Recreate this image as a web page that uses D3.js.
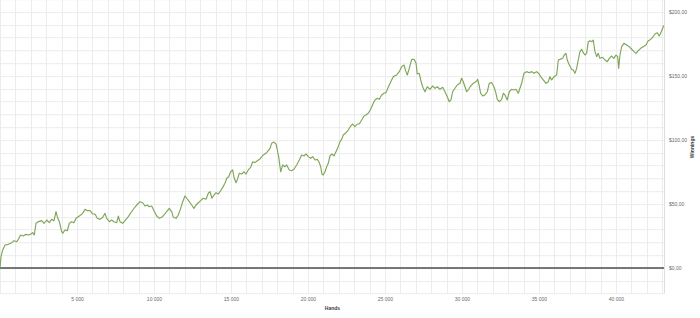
<!DOCTYPE html>
<html>
<head>
<meta charset="utf-8">
<script src="https://cdn.jsdelivr.net/npm/d3@7"></script>
<style>
  body { margin: 0; background: #fff; }
  svg { display: block; font-family: "Liberation Sans", Arial, sans-serif; }
</style>
</head>
<body>
<div id="chart"></div>
<script>
// Hands played (x) and cumulative winnings in $ (y)
var hands = [
  0, 65, 175, 325, 539, 760, 909, 1084, 1188, 1344, 1513, 1688, 1903, 2123, 2227, 2338,
  2487, 2708, 2857, 3033, 3202, 3357, 3507, 3636, 3721, 3851, 4007, 4072, 4221, 4370, 4500,
  4656, 4805, 4935, 5085, 5241, 5370, 5520, 5669, 5844, 6020, 6169, 6319, 6494, 6669, 6818,
  6929, 7098, 7253, 7403, 7578, 7682, 7792, 7968, 8117, 8332, 8656, 8877, 9091, 9267, 9416,
  9565, 9695, 9851, 10000, 10175, 10344, 10500, 10649, 10825, 10994, 11150, 11253, 11429,
  11578, 11734, 11864, 12013, 12123, 12292, 12448, 12597, 12727, 12877, 13032, 13201, 13377,
  13526, 13636, 13766, 13896, 14026, 14175, 14286, 14461, 14610, 14721, 14851, 14981, 15110,
  15195, 15325, 15409, 15539, 15695, 15844, 15974, 16123, 16279, 16409, 16558, 16708, 16883,
  17097, 17319, 17533, 17643, 17792, 17922, 18006, 18097, 18227, 18357, 18506, 18617, 18786,
  18942, 19091, 19266, 19435, 19591, 19740, 19870, 20019, 20175, 20305, 20455, 20604, 20734,
  20825, 20909, 20994, 21104, 21214, 21318, 21429, 21558, 21688, 21818, 21968, 22078, 22188,
  22292, 22468, 22617, 22773, 22903, 23052, 23201, 23331, 23487, 23636, 23766, 23916, 24072,
  24240, 24351, 24500, 24630, 24786, 24935, 25065, 25214, 25370, 25539, 25760, 25929, 26084,
  26234, 26364, 26448, 26578, 26734, 26883, 27013, 27097, 27227, 27318, 27448, 27597, 27747,
  27922, 28097, 28247, 28396, 28571, 28747, 28896, 29045, 29175, 29286, 29396, 29545, 29695,
  29870, 29981, 30084, 30195, 30305, 30435, 30565, 30734, 30909, 31019, 31123, 31214, 31344,
  31494, 31643, 31773, 31929, 32078, 32208, 32292, 32422, 32578, 32682, 32792, 32942, 33071,
  33227, 33377, 33506, 33656, 33766, 33877, 34026, 34201, 34370, 34526, 34675, 34851, 35020,
  35110, 35279, 35455, 35604, 35714, 35825, 35974, 36149, 36256, 36364, 36539, 36643, 36753,
  36838, 36968, 37123, 37230, 37338, 37448, 37552, 37662, 37773, 37877, 37987, 38097, 38201,
  38312, 38442, 38526, 38636, 38747, 38851, 38961, 39136, 39286, 39435, 39565, 39721, 39870,
  40000, 40110, 40175, 40260, 40370, 40520, 40695, 40864, 41019, 41169, 41299, 41448, 41604,
  41773, 41948, 42097, 42253, 42383, 42532, 42682, 42812, 42942, 43071, 43110
];
var winnings = [
  0, 8.8, 14.1, 18.0, 18.5, 19.8, 21.3, 20.5, 22.4, 25.8, 25.0, 26.3, 25.8, 27.6, 25.8, 34.9,
  36.2, 37.0, 34.9, 37.5, 35.4, 38.0, 37.0, 44.0, 40.1, 36.2, 28.4, 27.1, 29.7, 29.1, 34.9,
  36.2, 35.4, 38.8, 40.1, 41.4, 42.7, 45.9, 44.8, 44.8, 42.2, 42.2, 38.8, 38.0, 39.6, 42.7,
  38.8, 36.2, 37.5, 36.2, 35.4, 40.6, 36.2, 34.9, 37.0, 40.1, 45.9, 49.2, 51.8, 51.0, 48.4,
  49.2, 47.9, 48.4, 44.8, 40.6, 38.8, 39.6, 41.4, 44.0, 46.6, 44.0, 39.6, 38.8,
  41.4, 46.6, 51.8, 56.3, 54.5, 51.8, 49.2, 46.6, 49.2, 51.0, 52.6, 54.5, 53.7,
  58.4, 59.6, 54.5, 57.0, 58.8, 57.8, 59.6, 63.0, 66.2, 70.1, 71.3, 75.2, 76.6,
  70.9, 66.6, 68.8, 74.0, 73.4, 75.2, 73.4, 76.6, 78.7, 83.0, 82.3, 83.8, 85.2,
  88.3, 90.1, 93.5, 97.4, 98.4, 96.9, 92.2, 87.0, 75.2, 80.5, 79.1, 80.5, 76.6,
  76.0, 77.1, 80.5, 84.4, 88.3, 87.5, 89.1, 87.0, 85.7, 87.0, 84.4, 84.9, 82.3,
  79.1, 73.4, 72.7, 75.2, 79.1, 81.8, 87.5, 89.1, 87.5, 90.9, 94.8, 98.7, 100.5,
  103.9, 105.7, 107.8, 110.9, 112.5, 110.4, 112.5, 112.5, 115.6, 118.8, 119.5, 120.9, 124.0,
  128.7, 131.3, 132.6, 131.8, 135.2, 136.5, 137.0, 141.2, 145.3, 149.5, 150.8, 153.4, 157.3,
  158.6, 153.4, 150.8, 156.0, 163.0, 163.0, 160.4, 151.6, 152.1, 146.9, 141.6, 137.7, 141.6,
  139.6, 142.2, 140.4, 141.6, 139.6, 141.2, 137.7, 133.8, 129.9, 131.3, 137.7, 140.4, 143.0,
  144.3, 148.2, 145.5, 141.6, 137.7, 139.6, 142.2, 144.3, 145.5, 147.4, 142.2, 136.5, 134.4,
  135.2, 137.7, 144.3, 144.8, 141.6, 136.5, 131.8, 129.9, 131.8, 136.5, 135.2, 131.3, 137.7,
  139.6, 139.1, 139.6, 136.5, 140.4, 144.3, 152.1, 153.4, 152.6, 153.4, 152.1, 153.4, 151.6,
  149.5, 146.9, 144.3, 145.5, 149.5, 146.9, 149.5, 150.8, 162.5, 163.0, 163.8, 166.4, 167.7,
  162.5, 158.6, 155.2, 154.7, 152.1, 156.0, 162.5, 169.0, 170.9, 168.2, 166.4, 167.7, 176.8,
  177.6, 176.8, 178.1, 169.0, 165.1, 167.7, 163.8, 164.6, 162.5, 161.2, 163.8, 165.6, 163.8,
  166.4, 165.1, 156.0, 166.4, 172.9, 175.5, 174.2, 172.9, 170.9, 169.0, 167.7, 169.8, 171.6,
  172.9, 174.2, 177.6, 178.6, 180.2, 182.8, 183.8, 181.3, 184.6, 188.5, 189.5
];
var xTickValues = [5000, 10000, 15000, 20000, 25000, 30000, 35000, 40000];
var yTickValues = [0, 50, 100, 150, 200];

// Plot area, right axis sits outside it
var width = 700, height = 318;
var plot = {left: 0, top: -0.8, width: 664, height: 294.4};

var x = d3.scaleLinear().domain([0, 43120]).range([0, plot.width]);
var y = d3.scaleLinear().domain([-20, 210]).range([plot.height, 0]);

// Comma decimals, space thousands
var locale = d3.formatLocale({decimal: ",", thousands: " ", grouping: [3], currency: ["$", ""]});
var fmtX = locale.format(",d");
var fmtY = locale.format("$,.2f");

var svg = d3.select("#chart").append("svg")
    .attr("width", width)
    .attr("height", height);

var g = svg.append("g")
    .attr("transform", "translate(" + plot.left + "," + plot.top + ")");

// Gridlines every 1000 hands and every $10
g.append("g")
    .selectAll("line")
    .data(d3.range(0, 43001, 1000))
    .join("line")
    .attr("x1", function(d) { return Math.round(x(d)) + 0.5; })
    .attr("x2", function(d) { return Math.round(x(d)) + 0.5; })
    .attr("y1", 0)
    .attr("y2", plot.height)
    .attr("stroke", "#ececec")
    .attr("stroke-width", 1);

g.append("g")
    .selectAll("line")
    .data(d3.range(-20, 211, 10))
    .join("line")
    .attr("x1", 0)
    .attr("x2", plot.width)
    .attr("y1", function(d) { return Math.round(y(d)) + 0.5; })
    .attr("y2", function(d) { return Math.round(y(d)) + 0.5; })
    .attr("stroke", "#ececec")
    .attr("stroke-width", 1);

// Right border of the plot area
g.append("line")
    .attr("x1", plot.width + 0.5).attr("x2", plot.width + 0.5)
    .attr("y1", 0).attr("y2", plot.height)
    .attr("stroke", "#dedede");

// Zero line
g.append("line")
    .attr("x1", 0)
    .attr("x2", plot.width)
    .attr("y1", y(0))
    .attr("y2", y(0))
    .attr("stroke", "#4d4d4d")
    .attr("stroke-width", 1.5);

// Winnings line
var valueline = d3.line()
    .x(function(d, i) { return x(hands[i]); })
    .y(function(d) { return y(d); });

g.append("path")
    .datum(winnings)
    .attr("d", valueline)
    .attr("fill", "none")
    .attr("stroke", "#7fa658")
    .attr("stroke-width", 1.15)
    .attr("stroke-linejoin", "round");

// X axis labels
g.append("g")
    .attr("transform", "translate(0," + plot.height + ")")
    .call(d3.axisBottom(x).tickValues(xTickValues).tickSize(0).tickPadding(4).tickFormat(fmtX))
    .call(function(a) { a.select(".domain").remove(); })
    .selectAll("text")
    .attr("font-size", "5px")
    .attr("fill", "#6a6a6a");

// Y axis labels on the right
g.append("g")
    .attr("transform", "translate(" + plot.width + ",0)")
    .call(d3.axisRight(y).tickValues(yTickValues).tickSize(0).tickPadding(5).tickFormat(fmtY))
    .call(function(a) { a.select(".domain").remove(); })
    .selectAll("text")
    .attr("font-size", "5px")
    .attr("fill", "#6a6a6a");

// Axis titles
svg.append("text")
    .attr("x", 332.5)
    .attr("y", 310)
    .attr("text-anchor", "middle")
    .attr("font-size", "5px")
    .attr("font-weight", "bold")
    .attr("fill", "#404040")
    .text("Hands");

svg.append("text")
    .attr("transform", "translate(694,147) rotate(-90)")
    .attr("text-anchor", "middle")
    .attr("font-size", "5px")
    .attr("font-weight", "bold")
    .attr("fill", "#404040")
    .text("Winnings");
</script>
</body>
</html>
